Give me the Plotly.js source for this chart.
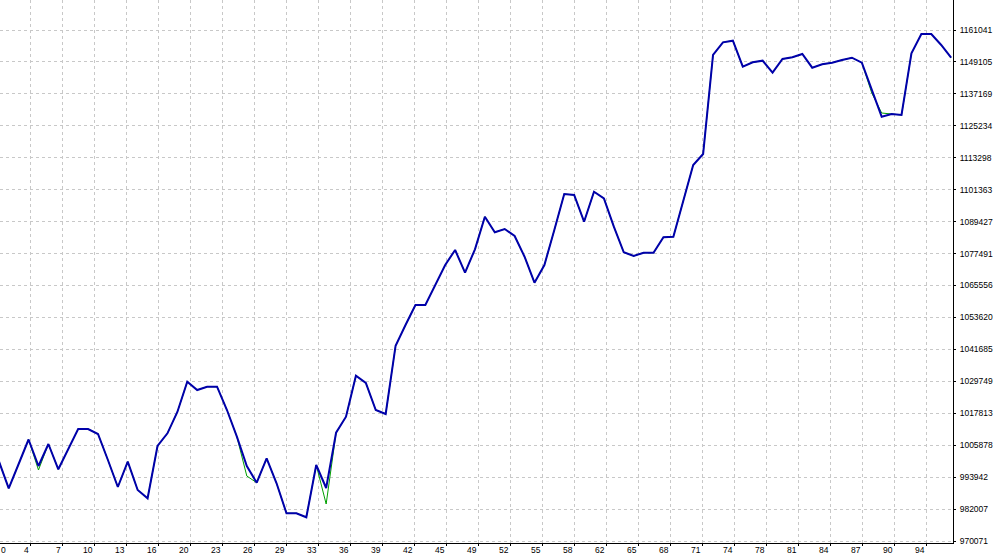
<!DOCTYPE html>
<html>
<head>
<meta charset="utf-8">
<script src="https://cdn.plot.ly/plotly-3.0.1.min.js"></script>
<style>
  html, body { margin: 0; padding: 0; background: #ffffff; }
  #chart { width: 995px; height: 557px; }
</style>
</head>
<body>
<div id="chart"></div>
<script>
// Trade index
const tradeIndex = Array.from({length: 97}, (_, i) => i);

// Balance (blue line)
const balance = [
  999969, 989766, 998847, 1008004, 998100, 1006322, 996867, 1004453, 1011928, 1011928,
  1010059, 1000342, 990252, 999707, 989131, 986029, 1005574, 1010321, 1018281, 1029605,
  1026503, 1027736, 1027736, 1019028, 1009050, 998100, 991859, 1000978, 991635, 980423,
  980423, 978928, 998474, 989878, 1010545, 1016524, 1031847, 1029119, 1019028, 1017533,
  1043059, 1050795, 1058269, 1058269, 1065743, 1073218, 1078824, 1070340, 1079085, 1091268,
  1085438, 1086672, 1084056, 1076320, 1066603, 1073218, 1086298, 1099752, 1099378, 1089400,
  1100612, 1098145, 1087531, 1077964, 1076581, 1077815, 1077815, 1083570, 1083794, 1097510,
  1110590, 1114701, 1151699, 1156445, 1157043, 1147326, 1148971, 1149569, 1145084, 1150204,
  1150839, 1152073, 1146953, 1148223, 1148821, 1149830, 1150690, 1148821, 1138619, 1128640,
  1129649, 1129276, 1152334, 1159547, 1159547, 1155436, 1150690
];

// Equity (green line)
const equity = [
  999969, 989766, 998847, 1008004, 996605, 1006322, 996867, 1004453, 1011928, 1011928,
  1010059, 1000342, 990252, 999707, 989131, 986029, 1005574, 1010321, 1018281, 1029605,
  1026503, 1027736, 1027736, 1019028, 1009050, 994363, 991859, 1000978, 991635, 980423,
  980423, 978928, 998474, 983899, 1010545, 1016524, 1031847, 1029119, 1019028, 1017533,
  1043059, 1050795, 1058269, 1058269, 1065743, 1073218, 1078824, 1070340, 1079085, 1091268,
  1085438, 1086672, 1084056, 1076320, 1066603, 1073218, 1086298, 1099752, 1099378, 1089400,
  1100612, 1098145, 1087531, 1077964, 1076581, 1077815, 1077815, 1083570, 1083794, 1097510,
  1110590, 1114701, 1151699, 1156445, 1157043, 1147326, 1148971, 1149569, 1145084, 1150204,
  1150839, 1152073, 1146953, 1148223, 1148821, 1149830, 1150690, 1148821, 1137498, 1130023,
  1129649, 1129276, 1152334, 1159547, 1159547, 1155436, 1150690
];

// Axis tick labels
const xTickLabels = ['0','4','7','10','13','16','20','23','26','29','33','36','39','42','45',
  '49','52','55','58','62','65','68','71','74','78','81','84','87','90','94'];
const yTickLabels = ['970071','982007','993942','1005878','1017813','1029749','1041685',
  '1053620','1065556','1077491','1089427','1101363','1113298','1125234','1137169',
  '1149105','1161041'];

// Layout geometry
const xRange = [0.121, 96.19];
const yStart = 970071, yStep = 11935.625;
const xStep = 3.2258;
const yTickVals = yTickLabels.map((_, k) => yStart + k * yStep);
const xTickVals = xTickLabels.map((_, k) => k * xStep - 0.01);

const font = {family: 'Liberation Sans, Arial, sans-serif', size: 8.5, color: '#000000'};

const annotations = xTickLabels.map((t, k) => ({
  x: k === 0 ? xRange[0] : xTickVals[k], xref: 'x', y: 0, yref: 'paper',
  text: t, showarrow: false, xanchor: k === 0 ? 'left' : 'right', yanchor: 'top',
  xshift: k === 0 ? 0 : -1, yshift: -1, font: font, borderpad: 0
}));

const traces = [
  {x: tradeIndex, y: equity, type: 'scatter', mode: 'lines',
   line: {color: '#00a000', width: 1}, hoverinfo: 'skip', showlegend: false},
  {x: tradeIndex, y: balance, type: 'scatter', mode: 'lines',
   line: {color: '#0000aa', width: 2}, hoverinfo: 'skip', showlegend: false}
];

const layout = {
  width: 995, height: 557,
  margin: {l: 0, r: 42, t: 0, b: 14, pad: 0},
  paper_bgcolor: '#ffffff', plot_bgcolor: '#ffffff',
  showlegend: false,
  xaxis: {
    range: xRange, tickmode: 'array', tickvals: xTickVals,
    showticklabels: false, ticks: 'outside', ticklen: 2, tickcolor: '#000000',
    showgrid: true, gridcolor: '#c8c8c8', griddash: '3px,3px', gridwidth: 1,
    showline: true, linecolor: '#000000', linewidth: 1, zeroline: false
  },
  yaxis: {
    side: 'right', range: [969324, 1172252], tickmode: 'array',
    tickvals: yTickVals, ticktext: yTickLabels, tickfont: font,
    ticks: 'outside', ticklen: 2, tickcolor: '#000000', ticklabelstandoff: 2,
    showgrid: true, gridcolor: '#c8c8c8', griddash: '3px,3px', gridwidth: 1,
    showline: true, linecolor: '#000000', linewidth: 1, zeroline: false
  },
  annotations: annotations
};

Plotly.newPlot('chart', traces, layout, {staticPlot: true, displayModeBar: false});
</script>
</body>
</html>
